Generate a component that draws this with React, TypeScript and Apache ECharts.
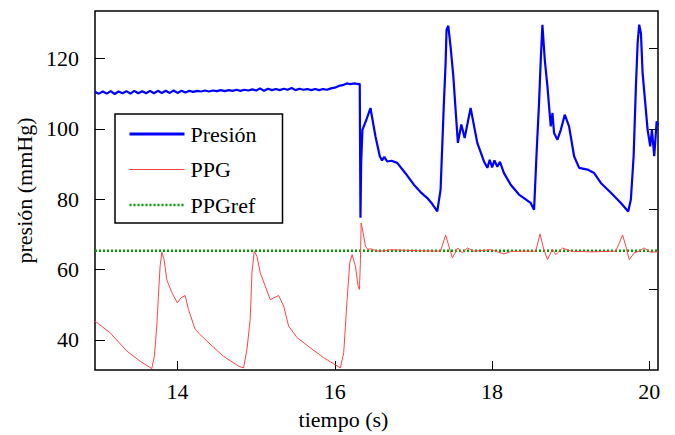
import React, { useEffect, useRef } from "react";
import * as echarts from "echarts";

// Presión (mmHg) vs tiempo (s)
const presion: [number, number][] = [
  [12.95, 110.5], [13.0, 110.0], [13.05, 110.6], [13.1, 110.0], [13.15, 110.7], [13.2, 109.9],
  [13.25, 110.6], [13.3, 110.1], [13.35, 110.7], [13.4, 110.0], [13.45, 110.8], [13.5, 110.1],
  [13.55, 110.7], [13.6, 110.1], [13.65, 110.8], [13.7, 110.1], [13.75, 110.8], [13.8, 110.2],
  [13.85, 110.8], [13.9, 110.2], [13.95, 110.9], [14.0, 110.2], [14.05, 110.8], [14.1, 110.3],
  [14.15, 110.8], [14.2, 110.5], [14.25, 110.8], [14.3, 110.6], [14.35, 110.9], [14.4, 110.6],
  [14.45, 110.9], [14.5, 110.7], [14.55, 111.0], [14.6, 110.7], [14.65, 111.0], [14.7, 110.8],
  [14.75, 111.1], [14.8, 110.8], [14.85, 111.1], [14.9, 110.9], [14.95, 111.2], [15.0, 110.9],
  [15.05, 111.5], [15.1, 110.8], [15.15, 111.4], [15.2, 111.0], [15.25, 111.3], [15.3, 111.0],
  [15.35, 111.4], [15.4, 111.1], [15.45, 111.6], [15.5, 111.0], [15.55, 111.4], [15.6, 111.1],
  [15.65, 111.3], [15.7, 111.0], [15.75, 111.3], [15.8, 111.0], [15.85, 111.3], [15.9, 111.1],
  [15.95, 111.5], [16.0, 111.7], [16.05, 112.2], [16.1, 112.4], [16.15, 112.9], [16.2, 112.7],
  [16.25, 112.9], [16.3, 112.7], [16.317, 112.8],
  [16.326, 74.7], [16.335, 90.3], [16.351, 99.7], [16.4, 102.5], [16.453, 105.9], [16.517, 97.8],
  [16.572, 92.2], [16.6, 91.0], [16.63, 92.0], [16.666, 90.7], [16.72, 90.9], [16.793, 90.3],
  [16.9, 87.3], [17.005, 84.1], [17.09, 82.0], [17.176, 80.3], [17.24, 78.6], [17.303, 76.5],
  [17.345, 82.7], [17.387, 107.3], [17.409, 118.7], [17.421, 128.2], [17.443, 129.3], [17.472, 123.4],
  [17.507, 114.9], [17.536, 105.4], [17.565, 96.0], [17.609, 101.2], [17.651, 97.4], [17.727, 105.9],
  [17.812, 96.0], [17.897, 90.7], [17.94, 88.9], [17.97, 91.2], [18.0, 89.0], [18.03, 91.0],
  [18.067, 89.2], [18.1, 90.6], [18.151, 87.4], [18.237, 84.1], [18.342, 81.3], [18.491, 78.9],
  [18.534, 77.0], [18.568, 94.1], [18.597, 107.3], [18.619, 119.6], [18.64, 129.6], [18.67, 119.6],
  [18.704, 112.0], [18.725, 106.3], [18.746, 100.7], [18.768, 104.5], [18.788, 98.8], [18.831, 96.9],
  [18.874, 99.7], [18.924, 104.0], [18.979, 100.7], [19.043, 92.2], [19.107, 88.9], [19.214, 88.4],
  [19.298, 87.4], [19.383, 84.6], [19.511, 81.8], [19.638, 78.9], [19.731, 76.5], [19.765, 79.9],
  [19.8, 92.2], [19.829, 112.0], [19.851, 124.4], [19.871, 129.6], [19.893, 127.2], [19.914, 115.9],
  [19.944, 108.3], [19.978, 99.7], [20.011, 95.0], [20.033, 99.7], [20.062, 92.2], [20.093, 102.1],
  [20.11, 101.0],
];

// PPG (escalada al eje de presión)
const ppg: [number, number][] = [
  [12.95, 45.3], [13.141, 42.0], [13.354, 36.8], [13.523, 33.9], [13.672, 31.8], [13.705, 35.3],
  [13.736, 43.9], [13.756, 52.4], [13.778, 60.9], [13.8, 64.9], [13.829, 62.8], [13.863, 57.1],
  [13.927, 53.4], [13.998, 50.5], [14.042, 51.9], [14.096, 52.6], [14.139, 48.6], [14.224, 42.9],
  [14.373, 39.6], [14.584, 35.3], [14.776, 32.5], [14.839, 32.0], [14.882, 37.2], [14.924, 45.8],
  [14.946, 59.0], [14.975, 65.2], [15.01, 63.7], [15.052, 59.0], [15.116, 55.2], [15.179, 51.4],
  [15.285, 52.6], [15.349, 49.6], [15.412, 43.9], [15.519, 40.6], [15.689, 37.7], [15.858, 34.9],
  [16.071, 32.0], [16.113, 36.3], [16.156, 51.4], [16.19, 61.9], [16.22, 64.2], [16.262, 60.9],
  [16.296, 55.2], [16.313, 54.3], [16.326, 62.8], [16.335, 73.2], [16.36, 70.4], [16.389, 66.6],
  [16.419, 65.7], [16.453, 65.9], [16.53, 65.3], [16.623, 65.2], [16.7, 65.6], [16.835, 65.5],
  [17.09, 65.3], [17.345, 65.2], [17.409, 69.8], [17.451, 66.6], [17.494, 63.3], [17.565, 66.1],
  [17.621, 64.7], [17.685, 66.1], [17.769, 65.2], [17.982, 65.6], [18.151, 64.4], [18.237, 65.1],
  [18.406, 65.2], [18.555, 65.2], [18.61, 70.1], [18.653, 66.1], [18.704, 62.8], [18.768, 65.7],
  [18.81, 64.2], [18.895, 66.1], [19.001, 65.2], [19.256, 65.0], [19.574, 65.2], [19.66, 69.8],
  [19.701, 66.6], [19.744, 62.8], [19.808, 64.7], [19.871, 65.2], [19.934, 66.1], [20.019, 64.9],
  [20.11, 65.0],
];

const ppgRef: [number, number][] = [[12.95, 65.3], [20.11, 65.3]];

const xTicks = [14, 16, 18, 20];
const yTicks = [40, 60, 80, 100, 120];
const rightTicks = [1, 2, 3, 4];

export default function App() {
  const ref = useRef<HTMLDivElement>(null);
  useEffect(() => {
    const chart = echarts.init(ref.current!, null, { renderer: "svg" });
    const font = "Liberation Serif";
    const tickStyle = { color: "#000", width: 1 };
    chart.setOption({
      animation: false,
      grid: {
        left: 95, right: 17, top: 11, bottom: 64,
        show: true, borderColor: "#000", borderWidth: 1.5,
      },
      xAxis: {
        type: "value", min: 12.95, max: 20.11,
        name: "tiempo (s)", nameLocation: "middle", nameGap: 38,
        nameTextStyle: { fontFamily: font, fontSize: 22, color: "#000", padding: [0, 66, 0, 0] },
        axisLine: { show: false },
        axisTick: { show: true, inside: true, length: 9, customValues: xTicks, lineStyle: tickStyle },
        axisLabel: { customValues: xTicks, fontFamily: font, fontSize: 22, color: "#000", margin: 10 },
        splitLine: { show: false },
      },
      yAxis: [
        {
          type: "value", min: 31.4, max: 133.5,
          name: "presión (mmHg)", nameLocation: "middle", nameGap: 56,
          nameTextStyle: { fontFamily: font, fontSize: 22, color: "#000" },
          axisLine: { show: false },
          axisTick: { show: true, inside: true, length: 10, customValues: yTicks, lineStyle: tickStyle },
          axisLabel: { customValues: yTicks, fontFamily: font, fontSize: 22, color: "#000", margin: 16 },
          splitLine: { show: false },
        },
        {
          type: "value", position: "right", min: 0, max: 4.47,
          axisLine: { show: false },
          axisTick: { show: true, inside: true, length: 9, customValues: rightTicks, lineStyle: tickStyle },
          axisLabel: { show: false },
          splitLine: { show: false },
        },
      ],
      legend: {
        orient: "vertical", left: 115, top: 114,
        padding: [9, 26, 7, 13],
        itemWidth: 55, itemHeight: 14, itemGap: 13.5,
        backgroundColor: "#fff", borderColor: "#000", borderWidth: 1.5,
        selectedMode: false,
        itemStyle: { opacity: 0 },
        textStyle: { fontFamily: font, fontSize: 22, color: "#000", lineHeight: 22, padding: [0, 0, 0, 1] },
        data: [
          { name: "Presión", lineStyle: { width: 3 } },
          { name: "PPG", lineStyle: { width: 1 } },
          { name: "PPGref", lineStyle: { width: 2.5 } },
        ],
      },
      series: [
        {
          name: "Presión", type: "line", data: presion, symbol: "none", yAxisIndex: 0,
          lineStyle: { color: "#0000ff", width: 2.2 }, itemStyle: { color: "#0000ff" }, z: 4,
        },
        {
          name: "PPG", type: "line", data: ppg, symbol: "none", yAxisIndex: 0,
          lineStyle: { color: "#ff4444", width: 1 }, itemStyle: { color: "#ff4444" }, z: 3,
        },
        {
          name: "PPGref", type: "line", data: ppgRef, symbol: "none", yAxisIndex: 0,
          lineStyle: { color: "#009a00", width: 2.5, type: [2, 2] }, itemStyle: { color: "#009a00" }, z: 2,
        },
      ],
    });
    return () => chart.dispose();
  }, []);
  return (
    <div
      ref={ref}
      style={{ position: "fixed", left: 0, top: 0, width: 675, height: 435, background: "#fff" }}
    />
  );
}
